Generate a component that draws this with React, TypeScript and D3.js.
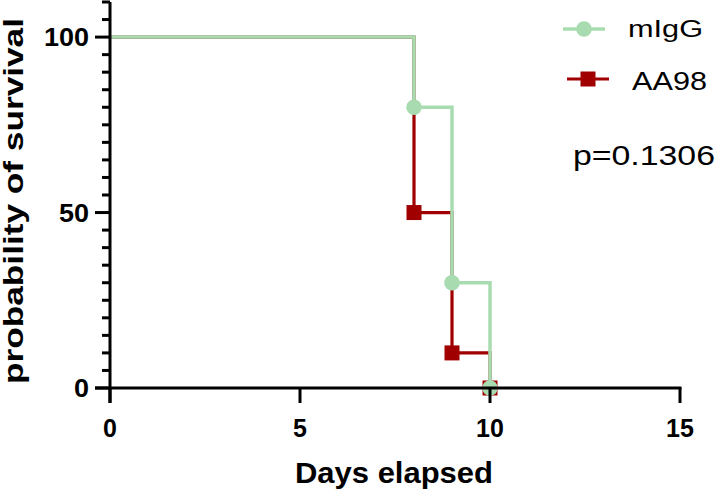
import React from 'react';
import * as d3 from 'd3';

// survival data
const days = [0, 8, 9, 10];
const mIgG = [100, 80, 30, 0];
const aa98 = [100, 50, 10, 0];
const xTicks = [0, 5, 10, 15];
const yTicks = [0, 50, 100];
const seriesNames = ['mIgG', 'AA98'];
const pValue = 'p=0.1306';

const GREEN = '#a8dcb0';
const RED = '#a00000';

export default function App() {
  const width = 718;
  const height = 490;

  const x = d3.scaleLinear().domain([0, 15]).range([110, 680]);
  const y = d3.scaleLinear().domain([0, 110]).range([388, 2]);

  const line = d3.line<number>()
    .x((d, i) => x(days[i]))
    .y(d => y(d))
    .curve(d3.curveStepAfter);

  const minor = d3.range(0, 111, 5);
  const font = 'Liberation Sans, Arial, sans-serif';

  return (
    <svg width={width} height={height}
      style={{position: 'absolute', left: 0, top: 0, background: '#fff'}}
      fontFamily={font}>
      {/* red series first, green on top */}
      <path d={line(aa98) || ''} fill="none" stroke={RED} strokeWidth={3.2} />
      {aa98.slice(1).map((v, i) => (
        <rect key={'s' + i} x={x(days[i + 1]) - 7.5} y={y(v) - 7.5} width={15} height={15} fill={RED} />
      ))}
      <path d={line(mIgG) || ''} fill="none" stroke={GREEN} strokeWidth={3.5} />
      {mIgG.slice(1).map((v, i) => (
        <circle key={'c' + i} cx={x(days[i + 1])} cy={y(v)} r={7.8} fill={GREEN} />
      ))}

      {/* y axis */}
      <line x1={x(0)} x2={x(0)} y1={y(110)} y2={y(0) + 15} stroke="#000" strokeWidth={3} />
      {minor.map(t => (
        <line key={'m' + t} x1={x(0) - (t % 50 === 0 ? 15 : 8)} x2={x(0)} y1={y(t)} y2={y(t)} stroke="#000" strokeWidth={3} />
      ))}
      {yTicks.map(t => (
        <text key={'yt' + t} x={89} y={y(t) + 9} textAnchor="end" fontSize={25} fontWeight="bold"
          textLength={t === 100 ? 45 : t === 50 ? 30 : 15} lengthAdjust="spacingAndGlyphs">{t}</text>
      ))}

      {/* x axis */}
      <line x1={x(0) - 15} x2={x(15) + 1.5} y1={y(0)} y2={y(0)} stroke="#000" strokeWidth={3} />
      {xTicks.map(t => (
        <line key={'xm' + t} x1={x(t)} x2={x(t)} y1={y(0)} y2={y(0) + 15} stroke="#000" strokeWidth={3} />
      ))}
      {xTicks.map(t => (
        <text key={'xt' + t} x={x(t)} y={437} textAnchor="middle" fontSize={25} fontWeight="bold">{t}</text>
      ))}

      {/* axis titles */}
      <text x={295} y={483} fontSize={29} fontWeight="bold" textLength={198} lengthAdjust="spacingAndGlyphs">Days elapsed</text>
      <text transform="translate(23,201) rotate(-90)" textAnchor="middle" fontSize={27} fontWeight="bold"
        textLength={366} lengthAdjust="spacingAndGlyphs">probability of survival</text>

      {/* legend */}
      <line x1={563} x2={605} y1={29} y2={29} stroke={GREEN} strokeWidth={3.5} />
      <circle cx={584} cy={29} r={7.8} fill={GREEN} />
      <text x={628} y={37} fontSize={23} textLength={75} lengthAdjust="spacingAndGlyphs">{seriesNames[0]}</text>
      <line x1={567} x2={609} y1={79} y2={79} stroke={RED} strokeWidth={3.2} />
      <rect x={580.5} y={71.5} width={15} height={15} fill={RED} />
      <text x={632} y={90} fontSize={25} textLength={75} lengthAdjust="spacingAndGlyphs">{seriesNames[1]}</text>

      <text x={573} y={165} fontSize={28} textLength={142} lengthAdjust="spacingAndGlyphs">{pValue}</text>
    </svg>
  );
}
